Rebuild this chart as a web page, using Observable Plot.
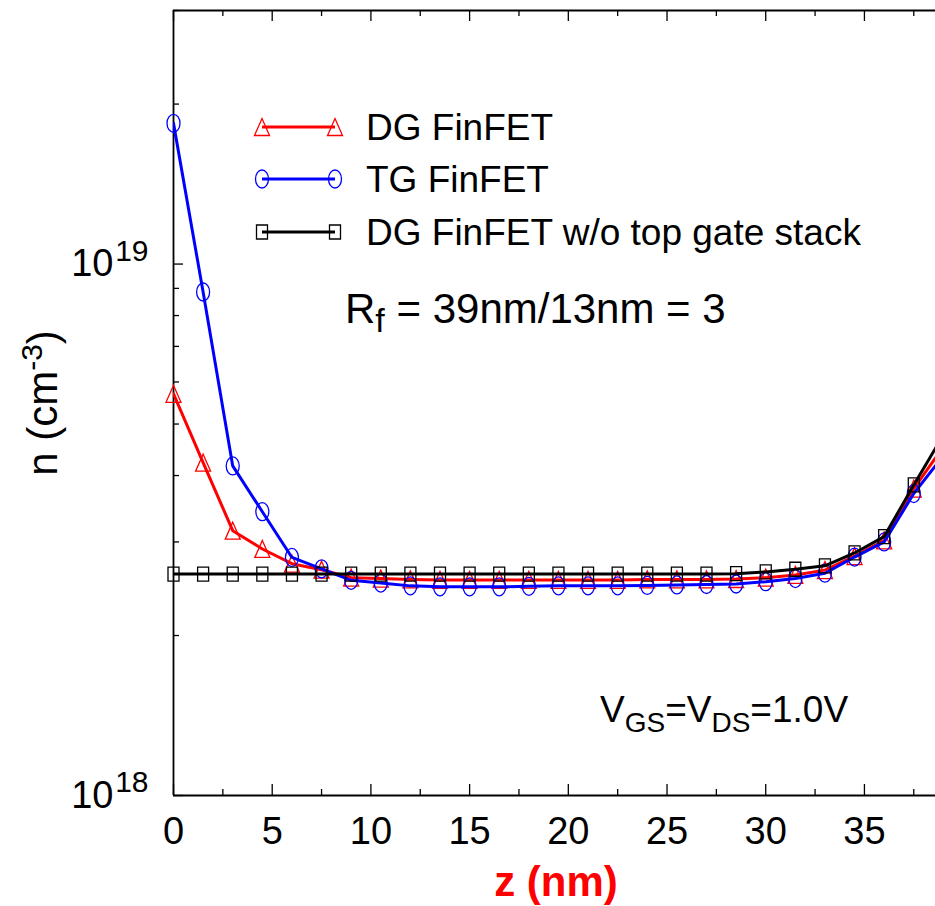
<!DOCTYPE html>
<html>
<head>
<meta charset="utf-8">
<script src="https://cdn.jsdelivr.net/npm/d3@7"></script>
<script src="https://cdn.jsdelivr.net/npm/@observablehq/plot@0.6"></script>
<style>
  html, body { margin: 0; padding: 0; background: #fff; overflow: hidden; }
  #chart svg { display: block; overflow: hidden; }
</style>
</head>
<body>
<div id="chart"></div>
<script>
// Electron density n along the fin height z (nm), VGS = VDS = 1.0 V
const zNm = [0, 1.5, 3, 4.5, 6, 7.5, 9, 10.5, 12, 13.5, 15, 16.5, 18, 19.5, 21, 22.5, 24, 25.5, 27, 28.5, 30, 31.5, 33, 34.5, 36, 37.5, 39];

const nDG = [5.70e18, 4.23e18, 3.15e18, 2.91e18, 2.73e18, 2.66e18, 2.57e18, 2.56e18, 2.55e18, 2.545e18,
             2.545e18, 2.545e18, 2.545e18, 2.545e18, 2.545e18, 2.545e18, 2.55e18, 2.55e18, 2.55e18, 2.555e18,
             2.57e18, 2.60e18, 2.655e18, 2.82e18, 3.02e18, 3.78e18, 4.53e18];

const nTG = [1.84e19, 8.86e18, 4.17e18, 3.42e18, 2.805e18, 2.67e18, 2.54e18, 2.51e18, 2.48e18, 2.47e18,
             2.47e18, 2.47e18, 2.475e18, 2.48e18, 2.48e18, 2.48e18, 2.485e18, 2.49e18, 2.495e18, 2.50e18,
             2.525e18, 2.56e18, 2.62e18, 2.81e18, 3.00e18, 3.70e18, 4.36e18];

const nNoTop = [2.61e18, 2.61e18, 2.61e18, 2.61e18, 2.61e18, 2.61e18, 2.61e18, 2.61e18, 2.61e18, 2.61e18,
                2.61e18, 2.61e18, 2.61e18, 2.61e18, 2.61e18, 2.61e18, 2.61e18, 2.61e18, 2.61e18, 2.615e18,
                2.635e18, 2.665e18, 2.705e18, 2.86e18, 3.07e18, 3.84e18, 4.77e18];

const seriesNames = ["DG FinFET", "TG FinFET", "DG FinFET w/o top gate stack"];
const seriesColors = ["#ff0000", "#0000ff", "#000000"];

const xMajorTicks = [0, 5, 10, 15, 20, 25, 30, 35];
const xMinorTicks = [2.5, 7.5, 12.5, 17.5, 22.5, 27.5, 32.5, 37.5];
const yMajorTicks = [1e18, 1e19];
const yMinorTicks = [2e18, 3e18, 4e18, 5e18, 6e18, 7e18, 8e18, 9e18, 2e19, 3e19];

const xLabel = "z (nm)";
const yLabelParts = ["n (cm", "-3", ")"];
const ratioParts = ["R", "f", " = 39nm/13nm = 3"];
const biasParts = ["V", "GS", "=V", "DS", "=1.0V"];

// Open marker shapes (slightly taller than wide)
function ellipseSymbol(rx, ry) {
  const kx = rx * 0.5523, ky = ry * 0.5523;
  return {draw(c) {
    c.moveTo(rx, 0);
    c.bezierCurveTo(rx, ky, kx, ry, 0, ry);
    c.bezierCurveTo(-kx, ry, -rx, ky, -rx, 0);
    c.bezierCurveTo(-rx, -ky, -kx, -ry, 0, -ry);
    c.bezierCurveTo(kx, -ry, rx, -ky, rx, 0);
    c.closePath();
  }};
}
function triangleSymbol(w, h) {
  return {draw(c) {
    c.moveTo(0, -h / 2); c.lineTo(w / 2, h / 2); c.lineTo(-w / 2, h / 2); c.closePath();
  }};
}
function rectSymbol(w, h) {
  return {draw(c) { c.rect(-w / 2, -h / 2, w, h); }};
}
const seriesSymbols = [triangleSymbol(15, 17), ellipseSymbol(6.5, 9), rectSymbol(11, 14)];
const seriesValues = [nDG, nTG, nNoTop];

const rows = seriesNames.flatMap((name, i) =>
  zNm.map((z, j) => ({series: name, z, n: seriesValues[i][j]})));

const W = 935, H = 906;
const mLeft = 173, mTop = 10, mBottom = 111, mRight = 0;
const frameW = W - mLeft - mRight, frameH = H - mTop - mBottom;
const xMax = 38.6;
const font = '"Liberation Sans", Arial, Helvetica, sans-serif';

const seriesMarks = seriesNames.flatMap((name, i) => {
  const data = rows.filter(d => d.series === name);
  return [
    Plot.line(data, {x: "z", y: "n", stroke: seriesColors[i], strokeWidth: 3, clip: true}),
    Plot.dot(data.filter(d => d.z <= xMax), {x: "z", y: "n", symbol: seriesSymbols[i], stroke: seriesColors[i], fill: "none", strokeWidth: 1.3})
  ];
});

const chart = Plot.plot({
  width: W, height: H,
  marginLeft: mLeft, marginTop: mTop, marginBottom: mBottom, marginRight: mRight,
  style: {fontFamily: font, background: "#fff", color: "#000"},
  x: {domain: [0, xMax]},
  y: {type: "log", domain: [1e18, 3e19]},
  marks: [
    // ticks pointing into the frame
    Plot.tickX(xMajorTicks, {x: d => d, insetTop: frameH - 11, stroke: "#000", strokeWidth: 1.3}),
    Plot.tickX(xMinorTicks, {x: d => d, insetTop: frameH - 6, stroke: "#000", strokeWidth: 1.3}),
    Plot.tickX(xMajorTicks, {x: d => d, insetBottom: frameH - 11, stroke: "#000", strokeWidth: 1.3}),
    Plot.tickX(xMinorTicks, {x: d => d, insetBottom: frameH - 6, stroke: "#000", strokeWidth: 1.3}),
    Plot.tickY(yMajorTicks, {y: d => d, insetRight: frameW - 10, stroke: "#000", strokeWidth: 1.3}),
    Plot.tickY(yMinorTicks, {y: d => d, insetRight: frameW - 6, stroke: "#000", strokeWidth: 1.3}),
    // frame: left, bottom, top
    Plot.ruleX([0], {stroke: "#000", strokeWidth: 1.8}),
    Plot.ruleY([1e18, 3e19], {stroke: "#000", strokeWidth: 1.8}),
    Plot.axisX(xMajorTicks, {tickSize: 0, tickPadding: 22, fontSize: 38, tickFormat: d => String(d), label: null}),
    Plot.axisY(yMajorTicks, {tickSize: 0, tickPadding: 60, fontSize: 38, tickFormat: () => "10", label: null}),
    Plot.text(yMajorTicks, {y: d => d, frameAnchor: "left", text: d => String(Math.round(Math.log10(d))),
      textAnchor: "end", dx: -25, dy: -13, fontSize: 30, fill: "#000"}),
    ...seriesMarks
  ]
});

document.getElementById("chart").appendChild(chart);

// Legend and annotations
const svg = d3.select(chart);
const g = svg.append("g").attr("font-family", font).attr("fill", "#000").attr("text-anchor", "start");

const legendRows = [127, 179, 232];
seriesNames.forEach((name, i) => {
  const y = legendRows[i];
  g.append("line").attr("x1", 262).attr("x2", 335).attr("y1", y).attr("y2", y)
    .attr("stroke", seriesColors[i]).attr("stroke-width", 3);
  const p = d3.symbol().type(seriesSymbols[i])();
  [262, 335].forEach(x => {
    g.append("path").attr("d", p).attr("transform", `translate(${x},${y})`)
      .attr("fill", "none").attr("stroke", seriesColors[i]).attr("stroke-width", 1.3);
  });
  g.append("text").attr("x", 366).attr("y", y + 13).attr("font-size", 37).text(name);
});

// y-axis label
const yl = g.append("text").attr("transform", "translate(57,403) rotate(-90)")
  .attr("text-anchor", "middle").attr("font-size", 42);
yl.append("tspan").text(yLabelParts[0]);
yl.append("tspan").attr("dy", -15).attr("font-size", 30).text(yLabelParts[1]);
yl.append("tspan").attr("dy", 15).text(yLabelParts[2]);

// x-axis label
g.append("text").attr("x", 556).attr("y", 896).attr("text-anchor", "middle")
  .attr("font-size", 42).attr("font-weight", "bold").attr("fill", "#ff0000").text(xLabel);

// fin aspect ratio
const rf = g.append("text").attr("x", 345).attr("y", 323).attr("font-size", 42);
rf.append("tspan").text(ratioParts[0]);
rf.append("tspan").attr("dy", 9).attr("font-size", 34).text(ratioParts[1]);
rf.append("tspan").attr("dy", -9).text(ratioParts[2]);

// bias condition
const vb = g.append("text").attr("x", 600).attr("y", 722).attr("font-size", 37);
vb.append("tspan").text(biasParts[0]);
vb.append("tspan").attr("dy", 10).attr("font-size", 28).text(biasParts[1]);
vb.append("tspan").attr("dy", -10).text(biasParts[2]);
vb.append("tspan").attr("dy", 10).attr("font-size", 28).text(biasParts[3]);
vb.append("tspan").attr("dy", -10).text(biasParts[4]);
</script>
</body>
</html>
